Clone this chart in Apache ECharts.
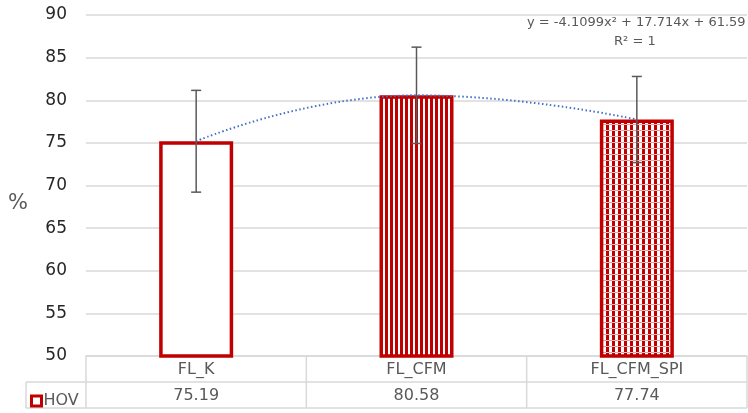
<!DOCTYPE html>
<html>
<head>
<meta charset="utf-8">
<script src="https://cdn.jsdelivr.net/npm/echarts@6/dist/echarts.min.js"></script>
<style>
  html, body { margin: 0; padding: 0; background: #fff; }
  #chart { width: 748px; height: 413px; }
</style>
</head>
<body>
<div id="chart"></div>
<script>
  const categories = ['FL_K', 'FL_CFM', 'FL_CFM_SPI']
  const hovValues = [75.19, 80.58, 77.74]
  const hovErrors = [5.97, 5.65, 5.05] // +/- whiskers
  const yTicks = { min: 50, max: 90, interval: 5 }
  const trendText = ['y = -4.1099x\u00b2 + 17.714x + 61.59', 'R\u00b2 = 1']

  const RED = '#C00000'
  const GREY = '#595959'
  const LINE = '#d9d9d9'
  const FONT = 'DejaVu Sans'

  // fill patterns for the 2nd and 3rd bar
  function stripePattern() {
    const c = document.createElement('canvas')
    c.width = 5; c.height = 4
    const ctx = c.getContext('2d')
    ctx.fillStyle = '#fff'
    ctx.fillRect(0, 0, 5, 4)
    ctx.fillStyle = RED
    ctx.fillRect(0, 0, 3, 4)
    return c
  }
  function checkPattern() {
    const c = document.createElement('canvas')
    c.width = 6; c.height = 6
    const ctx = c.getContext('2d')
    ctx.fillStyle = '#fff'
    ctx.fillRect(0, 0, 6, 6)
    ctx.fillStyle = RED
    ctx.fillRect(0, 0, 3, 6)
    ctx.fillStyle = '#ec9a9a'
    ctx.fillRect(3, 4, 3, 1)
    ctx.fillStyle = '#f3c4c4'
    ctx.fillRect(0, 4, 3, 1)
    return c
  }

  const fills = [
    '#ffffff',
    { image: stripePattern(), repeat: 'repeat' },
    { image: checkPattern(), repeat: 'repeat' }
  ]

  const chart = echarts.init(document.getElementById('chart'), null, { renderer: 'canvas' })

  const gridLeft = 86, gridRight = 1, gridTop = 15, gridBottom = 57
  const tableTop = 413 - gridBottom
  const rowH = 26
  const colW = (748 - gridLeft - gridRight) / categories.length

  const tableLines = []
  for (let i = 0; i <= categories.length; i++) {
    const x = gridLeft + colW * i
    tableLines.push({ type: 'line', shape: { x1: x, y1: tableTop, x2: x, y2: tableTop + rowH * 2 } })
  }
  tableLines.push({ type: 'line', shape: { x1: 26, y1: tableTop + rowH, x2: 748 - gridRight, y2: tableTop + rowH } })
  tableLines.push({ type: 'line', shape: { x1: 26, y1: tableTop + rowH * 2, x2: 748 - gridRight, y2: tableTop + rowH * 2 } })
  tableLines.push({ type: 'line', shape: { x1: 26, y1: tableTop + rowH, x2: 26, y2: tableTop + rowH * 2 } })
  tableLines.forEach(l => { l.style = { stroke: LINE, lineWidth: 1.5 }; l.silent = true })

  chart.setOption({
    animation: false,
    textStyle: { fontFamily: FONT },
    grid: { left: gridLeft, right: gridRight, top: gridTop, bottom: gridBottom, containLabel: false },
    legend: {
      left: 25, top: tableTop + rowH + 6,
      itemWidth: 10, itemHeight: 10, itemGap: 4,
      textStyle: { color: GREY, fontSize: 16, fontFamily: FONT, padding: [0, 0, 0, -3] },
      data: [{ name: 'HOV', icon: 'rect', itemStyle: { color: '#fff', borderColor: RED, borderWidth: 3 } }]
    },
    xAxis: [{
      type: 'category',
      data: categories,
      axisLine: { show: true, lineStyle: { color: LINE, width: 1.5 } },
      axisTick: { show: false },
      axisLabel: { color: GREY, fontSize: 16, margin: 6 }
    }, {
      type: 'category',
      position: 'bottom',
      offset: rowH,
      data: categories,
      axisLine: { show: false },
      axisTick: { show: false },
      axisLabel: { color: GREY, fontSize: 16, margin: 6, formatter: (v, i) => hovValues[i].toFixed(2) }
    }],
    yAxis: {
      type: 'value',
      min: yTicks.min, max: yTicks.max, interval: yTicks.interval,
      axisLine: { show: false },
      axisTick: { show: false },
      axisLabel: { color: '#262626', fontSize: 17, margin: 19 },
      splitLine: { lineStyle: { color: LINE, width: 1.5 } }
    },
    series: [{
      name: 'HOV',
      type: 'bar',
      barWidth: 74,
      data: hovValues.map((v, i) => ({
        value: v,
        itemStyle: { color: fills[i], borderColor: RED, borderWidth: 3.5 }
      }))
    }, {
      type: 'custom',
      z: 5,
      data: hovValues.map((v, i) => [i, v - hovErrors[i], v + hovErrors[i]]),
      renderItem: function (params, api) {
        const lo = api.coord([api.value(0), api.value(1)])
        const hi = api.coord([api.value(0), api.value(2)])
        const cap = 5
        const st = { stroke: '#595959', lineWidth: 1.5 }
        return {
          type: 'group',
          children: [
            { type: 'line', shape: { x1: hi[0], y1: hi[1], x2: lo[0], y2: lo[1] }, style: st },
            { type: 'line', shape: { x1: hi[0] - cap, y1: hi[1], x2: hi[0] + cap, y2: hi[1] }, style: st },
            { type: 'line', shape: { x1: lo[0] - cap, y1: lo[1], x2: lo[0] + cap, y2: lo[1] }, style: st }
          ]
        }
      }
    }, {
      type: 'line',
      z: 6,
      data: hovValues,
      smooth: true,
      symbol: 'none',
      lineStyle: { color: '#4472C4', width: 2, type: [1.5, 2.5] }
    }],
    graphic: tableLines.concat([{
      type: 'text',
      left: 8, top: 193,
      style: { text: '%', fill: GREY, font: '21px ' + FONT }
    }, {
      type: 'text',
      left: 527, top: 16,
      style: { text: trendText[0], fill: GREY, font: '13px ' + FONT }
    }, {
      type: 'text',
      left: 614, top: 35,
      style: { text: trendText[1], fill: GREY, font: '13px ' + FONT }
    }])
  })
</script>
</body>
</html>
